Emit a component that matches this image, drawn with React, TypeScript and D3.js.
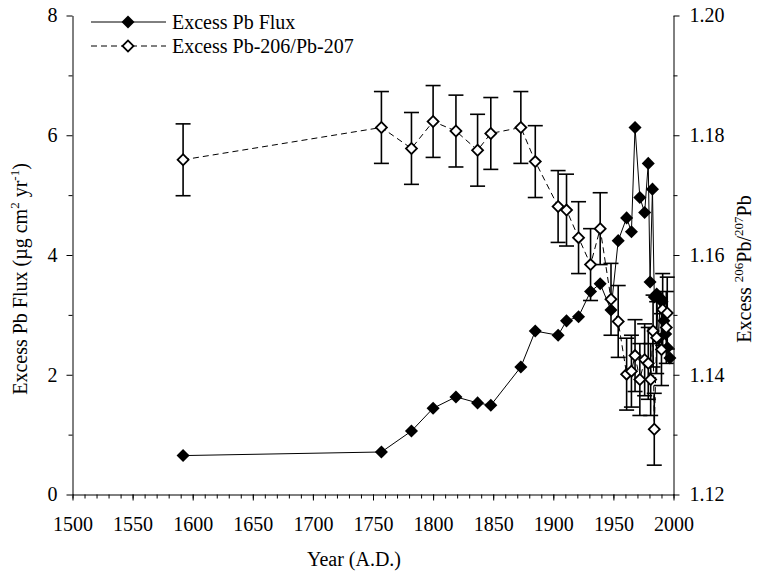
import React, { useRef, useEffect } from 'react';
import * as d3 from 'd3';

// Excess Pb flux (filled diamonds, solid line)
const fluxYears = [1592, 1757, 1782, 1800, 1819, 1837, 1848, 1873, 1885, 1904, 1911, 1921, 1931, 1939, 1948, 1954, 1961, 1965, 1968, 1972, 1976, 1979, 1980.5, 1982.5, 1984, 1986, 1987.5, 1989, 1990.5, 1992, 1993.5, 1995, 1997];
const fluxValues = [0.65, 0.71, 1.06, 1.44, 1.63, 1.53, 1.49, 2.13, 2.73, 2.66, 2.90, 2.97, 3.39, 3.52, 3.08, 4.24, 4.62, 4.39, 6.13, 4.96, 4.71, 5.53, 3.55, 5.10, 3.30, 3.35, 2.60, 3.28, 3.22, 2.90, 2.68, 2.45, 2.28];

// Excess 206Pb/207Pb (open diamonds, dashed line, error bars)
const ratioYears = [1592, 1757, 1782, 1800, 1819, 1837, 1848, 1873, 1885, 1904, 1911, 1921, 1931, 1939, 1948, 1954, 1961, 1965, 1968, 1972, 1976, 1979, 1981, 1983, 1984, 1986, 1990, 1991, 1994, 1994.8];
const ratioValues = [1.1759, 1.1813, 1.1778, 1.1823, 1.1807, 1.1775, 1.1803, 1.1813, 1.1756, 1.1681, 1.1675, 1.1629, 1.1584, 1.1644, 1.1526, 1.1489, 1.1401, 1.1406, 1.1432, 1.1392, 1.1425, 1.1419, 1.1392, 1.1473, 1.1309, 1.1462, 1.1442, 1.1509, 1.1479, 1.1503];
const ratioErrors = [0.006, 0.006, 0.006, 0.006, 0.006, 0.006, 0.006, 0.006, 0.006, 0.006, 0.006, 0.006, 0.006, 0.006, 0.006, 0.006, 0.006, 0.006, 0.006, 0.006, 0.006, 0.006, 0.006, 0.006, 0.006, 0.006, 0.006, 0.006, 0.006, 0.006];

const yearTicks = [1500, 1550, 1600, 1650, 1700, 1750, 1800, 1850, 1900, 1950, 2000];
const fluxTicks = [0, 2, 4, 6, 8];
const ratioTicks = [1.12, 1.14, 1.16, 1.18, 1.20];
const legendLabels = ['Excess Pb Flux', 'Excess Pb-206/Pb-207'];

const FONT = 'Liberation Serif, Times New Roman, serif';

export default function App() {
  const svgRef = useRef(null);

  useEffect(() => {
    const svg = d3.select(svgRef.current);
    svg.selectAll('*').remove();

    const left = 72.5, right = 673.5, top = 15.5, bottom = 494.5;

    const x = d3.scaleLinear().domain([1500, 2000]).range([left, right]);
    const yFlux = d3.scaleLinear().domain([0, 8]).range([bottom, top]);
    const yRatio = d3.scaleLinear().domain([1.12, 1.20]).range([bottom, top]);

    const fontSize = 20;

    // axes
    const styleAxis = (g) => {
      g.select('.domain').attr('stroke', '#000').attr('stroke-width', 1);
      g.selectAll('.tick line').attr('stroke', '#000').attr('stroke-width', 1);
      g.selectAll('text').attr('font-family', FONT).attr('font-size', fontSize).attr('fill', '#000');
    };

    // x minor + major
    svg.append('g')
      .attr('transform', `translate(0,${bottom})`)
      .call(d3.axisBottom(x).tickValues(d3.range(1500, 2001, 10)).tickSize(4).tickSizeOuter(0).tickFormat(() => ''))
      .call(styleAxis);
    svg.append('g')
      .attr('transform', `translate(0,${bottom})`)
      .call(d3.axisBottom(x).tickValues(yearTicks).tickSize(6).tickSizeOuter(0).tickPadding(16).tickFormat(d3.format('d')))
      .call(styleAxis)
      .call(g => g.select('.domain').remove());

    // left
    svg.append('g')
      .attr('transform', `translate(${left},0)`)
      .call(d3.axisLeft(yFlux).tickValues([1, 3, 5, 7]).tickSize(4).tickSizeOuter(0).tickFormat(() => ''))
      .call(styleAxis);
    svg.append('g')
      .attr('transform', `translate(${left},0)`)
      .call(d3.axisLeft(yFlux).tickValues(fluxTicks).tickSize(6).tickSizeOuter(0).tickPadding(9).tickFormat(d3.format('d')))
      .call(styleAxis)
      .call(g => g.select('.domain').remove());

    // right
    svg.append('g')
      .attr('transform', `translate(${right},0)`)
      .call(d3.axisRight(yRatio).tickValues([1.13, 1.15, 1.17, 1.19]).tickSize(4).tickSizeOuter(0).tickFormat(() => ''))
      .call(styleAxis);
    svg.append('g')
      .attr('transform', `translate(${right},0)`)
      .call(d3.axisRight(yRatio).tickValues(ratioTicks).tickSize(6).tickSizeOuter(0).tickPadding(10).tickFormat(d3.format('.2f')))
      .call(styleAxis)
      .call(g => g.select('.domain').remove());

    // axis titles
    svg.append('text')
      .attr('x', 354).attr('y', 566)
      .attr('text-anchor', 'middle')
      .attr('font-family', FONT).attr('font-size', fontSize)
      .text('Year (A.D.)');

    const lt = svg.append('text')
      .attr('transform', 'translate(27,279) rotate(-90)')
      .attr('text-anchor', 'middle')
      .attr('font-family', FONT).attr('font-size', fontSize);
    lt.append('tspan').text('Excess Pb Flux (µg cm');
    lt.append('tspan').attr('font-size', 13).attr('dy', -8).text('2');
    lt.append('tspan').attr('dy', 8).text(' yr');
    lt.append('tspan').attr('font-size', 13).attr('dy', -8).text('-1');
    lt.append('tspan').attr('dy', 8).text(')');

    const rt = svg.append('text')
      .attr('transform', 'translate(751,269) rotate(-90)')
      .attr('text-anchor', 'middle')
      .attr('font-family', FONT).attr('font-size', fontSize);
    rt.append('tspan').text('Excess ');
    rt.append('tspan').attr('font-size', 13).attr('dy', -8).text('206');
    rt.append('tspan').attr('dy', 8).text('Pb/');
    rt.append('tspan').attr('font-size', 13).attr('dy', -8).text('207');
    rt.append('tspan').attr('dy', 8).text('Pb');

    const filled = d3.symbol().type(d3.symbolSquare).size(85);
    const open = d3.symbol().type(d3.symbolSquare).size(60);

    // flux series
    const fluxData = fluxYears.map((yr, i) => ({ yr, v: fluxValues[i] }));
    const fluxLine = d3.line().x(d => x(d.yr)).y(d => yFlux(d.v));
    svg.append('path')
      .datum(fluxData)
      .attr('fill', 'none')
      .attr('stroke', '#000')
      .attr('stroke-width', 1)
      .attr('d', fluxLine);
    svg.selectAll('.flux-pt')
      .data(fluxData)
      .enter().append('path')
      .attr('class', 'flux-pt')
      .attr('d', filled)
      .attr('fill', '#000')
      .attr('transform', d => `translate(${x(d.yr)},${yFlux(d.v)}) rotate(45)`);

    // ratio series
    const ratioData = ratioYears.map((yr, i) => ({ yr, v: ratioValues[i], e: ratioErrors[i] }));
    const eb = svg.append('g').attr('stroke', '#000').attr('stroke-width', 1.6);
    ratioData.forEach(d => {
      const cx = x(d.yr);
      eb.append('line').attr('x1', cx).attr('x2', cx).attr('y1', yRatio(d.v + d.e)).attr('y2', yRatio(d.v - d.e));
      eb.append('line').attr('x1', cx - 7.5).attr('x2', cx + 7.5).attr('y1', yRatio(d.v + d.e)).attr('y2', yRatio(d.v + d.e));
      eb.append('line').attr('x1', cx - 7.5).attr('x2', cx + 7.5).attr('y1', yRatio(d.v - d.e)).attr('y2', yRatio(d.v - d.e));
    });
    const ratioLine = d3.line().x(d => x(d.yr)).y(d => yRatio(d.v));
    svg.append('path')
      .datum(ratioData)
      .attr('fill', 'none')
      .attr('stroke', '#000')
      .attr('stroke-width', 1)
      .attr('stroke-dasharray', '6,4')
      .attr('d', ratioLine);
    svg.selectAll('.ratio-pt')
      .data(ratioData)
      .enter().append('path')
      .attr('class', 'ratio-pt')
      .attr('d', open)
      .attr('fill', '#fff')
      .attr('stroke', '#000')
      .attr('stroke-width', 1.8)
      .attr('transform', d => `translate(${x(d.yr)},${yRatio(d.v)}) rotate(45)`);

    // legend
    const legend = svg.append('g');
    legendLabels.forEach((label, i) => {
      const ly = 22 + i * 24;
      legend.append('line')
        .attr('x1', 91).attr('x2', 166).attr('y1', ly).attr('y2', ly)
        .attr('stroke', '#000').attr('stroke-width', 1)
        .attr('stroke-dasharray', i === 1 ? '6,4' : null);
      legend.append('path')
        .attr('d', i === 0 ? filled : open)
        .attr('fill', i === 0 ? '#000' : '#fff')
        .attr('stroke', i === 0 ? 'none' : '#000')
        .attr('stroke-width', 1.8)
        .attr('transform', `translate(128,${ly}) rotate(45)`);
      legend.append('text')
        .attr('x', 172).attr('y', ly + 6.5)
        .attr('font-family', FONT).attr('font-size', fontSize)
        .text(label);
    });
  }, []);

  return (
    <svg ref={svgRef} width={757} height={575}
      style={{ position: 'absolute', left: 0, top: 0, background: '#fff' }} />
  );
}
